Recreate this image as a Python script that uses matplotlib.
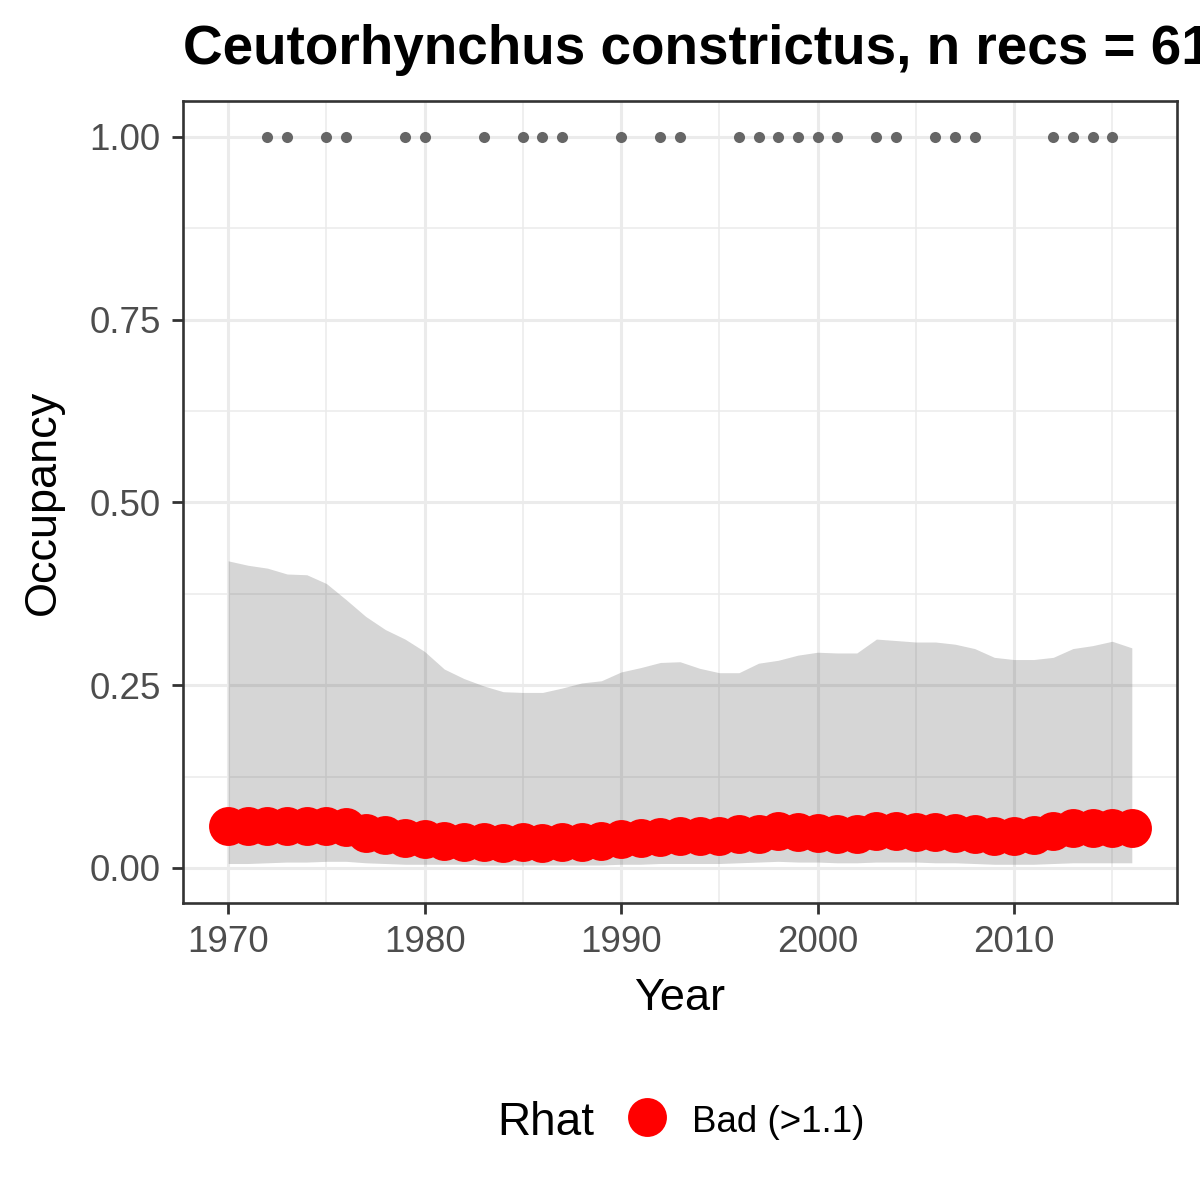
import matplotlib
matplotlib.use("Agg")
import matplotlib.pyplot as plt
from matplotlib.lines import Line2D
import numpy as np

plt.rcParams["font.family"] = ["Liberation Sans", "DejaVu Sans"]

# ---- data ----
years = list(range(1970, 2017))

occ_mean = [0.058, 0.057, 0.058, 0.058, 0.057, 0.058, 0.056, 0.048, 0.045, 0.041,
            0.039, 0.037, 0.036, 0.035, 0.034, 0.035, 0.034, 0.035, 0.036, 0.037,
            0.039, 0.041, 0.042, 0.044, 0.043, 0.044, 0.047, 0.047, 0.050, 0.049,
            0.048, 0.047, 0.047, 0.050, 0.050, 0.049, 0.049, 0.048, 0.047, 0.044,
            0.044, 0.045, 0.050, 0.054, 0.054, 0.055, 0.054]

occ_upper = [0.420, 0.414, 0.410, 0.402, 0.401, 0.389, 0.367, 0.344, 0.326, 0.313,
             0.296, 0.272, 0.259, 0.249, 0.241, 0.240, 0.240, 0.246, 0.253, 0.256,
             0.268, 0.274, 0.281, 0.282, 0.273, 0.267, 0.267, 0.280, 0.284, 0.291,
             0.295, 0.294, 0.294, 0.313, 0.311, 0.309, 0.309, 0.306, 0.300, 0.288,
             0.285, 0.285, 0.288, 0.300, 0.304, 0.310, 0.301]

occ_lower = [0.006, 0.006, 0.007, 0.008, 0.008, 0.009, 0.009, 0.007, 0.006, 0.005,
             0.005, 0.005, 0.005, 0.004, 0.004, 0.004, 0.004, 0.004, 0.004, 0.004,
             0.005, 0.005, 0.006, 0.006, 0.006, 0.006, 0.007, 0.008, 0.009, 0.008,
             0.008, 0.007, 0.007, 0.008, 0.008, 0.008, 0.007, 0.007, 0.006, 0.005,
             0.005, 0.005, 0.006, 0.007, 0.007, 0.007, 0.007]

rec_years = [1972, 1973, 1975, 1976, 1979, 1980, 1983, 1985, 1986, 1987,
             1990, 1992, 1993, 1996, 1997, 1998, 1999, 2000, 2001, 2003,
             2004, 2006, 2007, 2008, 2012, 2013, 2014, 2015]
rec_occ = [1.0] * len(rec_years)

title = "Ceutorhynchus constrictus, n recs = 61"
legend_title = "Rhat"
legend_label = "Bad (>1.1)"

# ---- layout ----
fig = plt.figure(figsize=(12, 12), dpi=100, facecolor="white")
ax = fig.add_axes([183 / 1200, 1 - 903 / 1200, 994 / 1200, 802 / 1200])

ax.fill_between(years, occ_lower, occ_upper, color="#333333", alpha=0.2,
                linewidth=0, zorder=1)
ax.plot(years, occ_mean, linestyle="none", marker="o", markersize=28,
        color="#FF0000", markeredgewidth=0, zorder=3)
ax.plot(rec_years, rec_occ, linestyle="none", marker="o", markersize=8,
        color="#666666", markeredgewidth=0, zorder=3)

ax.set_xlim(1967.7, 2018.3)
ax.set_ylim(-0.048, 1.049)

ax.set_xticks([1970, 1980, 1990, 2000, 2010])
ax.set_xticks([1975, 1985, 1995, 2005, 2015], minor=True)
ax.set_yticks([0, 0.25, 0.5, 0.75, 1.0])
ax.set_yticklabels(["0.00", "0.25", "0.50", "0.75", "1.00"])
ax.set_yticks([0.125, 0.375, 0.625, 0.875], minor=True)

ax.set_axisbelow(True)
ax.grid(which="major", color="#EBEBEB", linewidth=2.2)
ax.grid(which="minor", color="#EBEBEB", linewidth=1.1)

for spine in ax.spines.values():
    spine.set_edgecolor("#333333")
    spine.set_linewidth(1.9)

ax.tick_params(which="major", length=8, width=2, color="#333333",
               labelcolor="#4D4D4D", labelsize=26.5)
ax.tick_params(axis="x", which="major", pad=8)
ax.tick_params(axis="y", which="major", pad=8)
ax.tick_params(which="minor", length=0)

fig.text(680 / 1200, 1 - 1010 / 1200, "Year", fontsize=32.5,
         ha="center", va="baseline")
fig.text(43 / 1200, 1 - 502 / 1200, "Occupancy", fontsize=32.5,
         ha="center", va="center", rotation=90)

# title runs past the right edge, as in the reference
fig.text(183 / 1200, 1 - 64 / 1200, title, fontsize=39.5, fontweight="bold",
         ha="left", va="baseline")

# legend drawn like ggplot's bottom legend
fig.text(497 / 1200, 1 - 1135 / 1200, legend_title, fontsize=33,
         ha="left", va="baseline")
fig.add_artist(Line2D([647 / 1200], [1 - 1117 / 1200], transform=fig.transFigure,
                      linestyle="none", marker="o", markersize=28,
                      color="#FF0000", markeredgewidth=0))
fig.text(692 / 1200, 1 - 1132 / 1200, legend_label, fontsize=26.5,
         ha="left", va="baseline")

fig.savefig("out.png", dpi=100, facecolor="white")
